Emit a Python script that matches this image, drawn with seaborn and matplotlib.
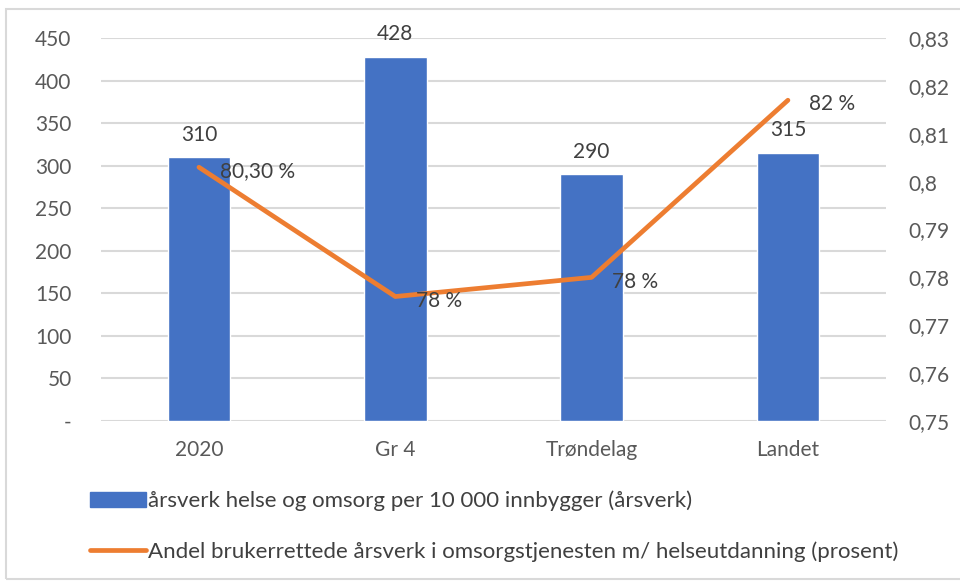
import matplotlib
matplotlib.use("Agg")
import matplotlib.pyplot as plt
import seaborn as sns
import numpy as np
import pandas as pd
from matplotlib.patches import Patch, Rectangle
from matplotlib.lines import Line2D
from matplotlib.ticker import FuncFormatter, MultipleLocator

# data
categories = ["2020", "Gr 4", "Trøndelag", "Landet"]
arsverk = [310, 428, 290, 315]
andel = [0.803, 0.776, 0.780, 0.817]
andel_labels = ["80,30 %", "78 %", "78 %", "82 %"]
bar_label = "årsverk helse og omsorg per 10 000 innbygger (årsverk)"
line_label = "Andel brukerrettede årsverk i omsorgstjenesten m/ helseutdanning (prosent)"

BLUE = "#4472C4"
ORANGE = "#ED7D31"
GRID = "#D9D9D9"
TICK = "#595959"
TEXT = "#404040"

sns.set_theme(style="white")
plt.rcParams["font.family"] = ["Lato", "DejaVu Sans"]
plt.rcParams["font.size"] = 15

df = pd.DataFrame({"kategori": categories, "arsverk": arsverk, "andel": andel})

fig = plt.figure(figsize=(9.6, 5.81), dpi=100)
ax = fig.add_axes([0.105, 0.2754, 0.818, 0.6592])

sns.barplot(data=df, x="kategori", y="arsverk", color=BLUE, width=0.32,
            saturation=1, ax=ax, zorder=2)
ax.set_xlim(-0.5, len(categories) - 0.5)
ax.set_ylim(0, 450)
ax.yaxis.set_major_locator(MultipleLocator(50))
ax.yaxis.set_major_formatter(FuncFormatter(lambda v, p: "-" if v == 0 else f"{v:.0f}"))
ax.grid(axis="y", color=GRID, linewidth=1.5, zorder=0)
ax.set_axisbelow(True)
for s in ax.spines.values():
    s.set_visible(False)
ax.set_xlabel("")
ax.set_ylabel("")
ax.tick_params(axis="both", length=0, colors=TICK, labelsize=15)
ax.tick_params(axis="y", pad=21)
ax.tick_params(axis="x", pad=14)

for i, v in enumerate(arsverk):
    ax.annotate(f"{v}", (i, v), xytext=(0, 9), textcoords="offset points",
                ha="center", va="bottom", color=TEXT, fontsize=15)

ax2 = ax.twinx()
sns.lineplot(x=np.arange(len(categories)), y=andel, color=ORANGE, linewidth=3.4,
             ax=ax2, zorder=3)
ax2.set_ylim(0.75, 0.83)
ax2.yaxis.set_major_locator(MultipleLocator(0.01))
ax2.yaxis.set_major_formatter(FuncFormatter(
    lambda v, p: f"{v:.2f}".rstrip("0").rstrip(".").replace(".", ",")))
for s in ax2.spines.values():
    s.set_visible(False)
ax2.tick_params(axis="y", length=0, colors=TICK, labelsize=15, pad=16)
ax2.set_ylabel("")

for i, (v, t) in enumerate(zip(andel, andel_labels)):
    ax2.annotate(t, (i, v), xytext=(15, -3), textcoords="offset points",
                 ha="left", va="center", color=TEXT, fontsize=15)

handles = [Patch(facecolor=BLUE, edgecolor=BLUE, label=bar_label),
           Line2D([0], [0], color=ORANGE, linewidth=3.4, label=line_label)]
fig.legend(handles=handles, loc="upper left", bbox_to_anchor=(0.073, 0.19),
           frameon=False, handlelength=2.5, handleheight=0.7, handletextpad=0.1,
           labelspacing=1.35, labelcolor=TEXT, fontsize=16)

# thin frame around the chart area
fig.patches.append(Rectangle((0.006, 0.004), 1.1, 0.98, transform=fig.transFigure,
                             fill=False, edgecolor=GRID, linewidth=1.5))

fig.savefig("out.png", dpi=100)
